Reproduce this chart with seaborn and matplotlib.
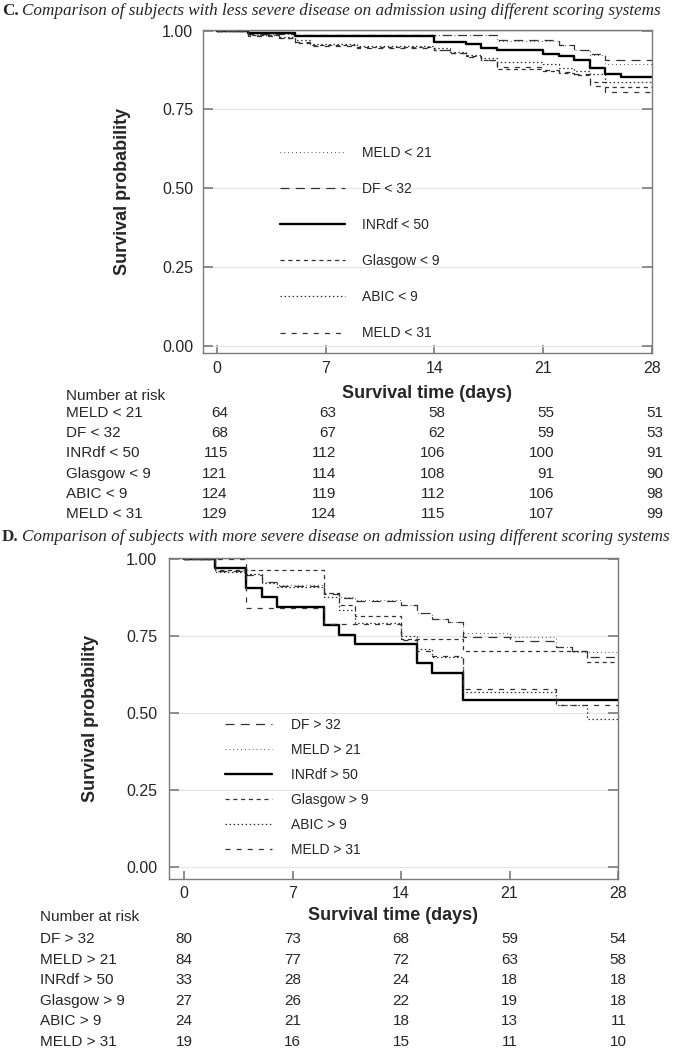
import pandas as pd
import seaborn as sns
import matplotlib.pyplot as plt
from matplotlib.transforms import blended_transform_factory

W, H = 685, 1050

# ---- panel C: less severe disease ----
c_labels = ["MELD < 21", "DF < 32", "INRdf < 50", "Glasgow < 9", "ABIC < 9", "MELD < 31"]

meld21_t = [2, 5, 18, 22, 23, 24, 25]
meld21_s = [0.990, 0.986, 0.968, 0.954, 0.938, 0.924, 0.895]
df32_t = [2, 5, 18, 22, 23, 24, 25]
df32_s = [0.988, 0.985, 0.969, 0.955, 0.939, 0.925, 0.906]
inr50_t = [2, 5, 14, 16, 17, 18, 21, 22, 23, 24, 25, 26]
inr50_s = [0.991, 0.984, 0.965, 0.956, 0.946, 0.938, 0.927, 0.918, 0.908, 0.881, 0.863, 0.852]
glas9_t = [2, 4, 5, 6, 9, 14, 15, 16, 17, 18, 21, 22, 23, 24, 25]
glas9_s = [0.985, 0.977, 0.961, 0.953, 0.948, 0.940, 0.930, 0.918, 0.908, 0.879, 0.872, 0.866, 0.860, 0.836, 0.820]
abic9_t = [2, 4, 5, 6, 9, 14, 15, 16, 17, 18, 21, 22, 23, 24, 25]
abic9_s = [0.987, 0.979, 0.970, 0.959, 0.952, 0.944, 0.933, 0.922, 0.912, 0.900, 0.894, 0.882, 0.872, 0.863, 0.838]
meld31_t = [2, 4, 5, 6, 9, 14, 15, 16, 17, 18, 21, 22, 23, 24, 25]
meld31_s = [0.984, 0.976, 0.965, 0.951, 0.946, 0.938, 0.928, 0.916, 0.906, 0.884, 0.876, 0.868, 0.862, 0.825, 0.804]

c_risk = [
    [64, 63, 58, 55, 51],
    [68, 67, 62, 59, 53],
    [115, 112, 106, 100, 91],
    [121, 114, 108, 91, 90],
    [124, 119, 112, 106, 98],
    [129, 124, 115, 107, 99],
]

# ---- panel D: more severe disease ----
d_labels = ["DF > 32", "MELD > 21", "INRdf > 50", "Glasgow > 9", "ABIC > 9", "MELD > 31"]

df32h_t = [2, 4, 5, 6, 9, 10, 11, 14, 15, 16, 17, 18, 21, 24, 25, 26]
df32h_s = [0.962, 0.948, 0.924, 0.912, 0.885, 0.874, 0.862, 0.852, 0.826, 0.805, 0.794, 0.746, 0.732, 0.713, 0.700, 0.681]
meld21h_t = [2, 4, 5, 6, 9, 10, 11, 14, 15, 16, 17, 18, 21, 24, 25]
meld21h_s = [0.975, 0.951, 0.924, 0.915, 0.889, 0.878, 0.867, 0.851, 0.824, 0.805, 0.794, 0.759, 0.746, 0.713, 0.699]
inr50h_t = [2, 4, 5, 6, 9, 10, 11, 15, 16, 18]
inr50h_s = [0.970, 0.905, 0.876, 0.845, 0.786, 0.753, 0.723, 0.663, 0.631, 0.542]
glas9h_t = [2, 9, 10, 11, 14, 18, 26]
glas9h_s = [0.963, 0.889, 0.852, 0.815, 0.741, 0.701, 0.667]
abic9h_t = [2, 4, 5, 6, 9, 10, 11, 14, 15, 16, 18, 24, 26]
abic9h_s = [0.958, 0.950, 0.921, 0.908, 0.875, 0.833, 0.792, 0.750, 0.708, 0.683, 0.567, 0.526, 0.479]
meld31h_t = [4, 9, 14, 15, 16, 18, 24]
meld31h_s = [0.842, 0.789, 0.737, 0.700, 0.684, 0.578, 0.526]

d_risk = [
    [80, 73, 68, 59, 54],
    [84, 77, 72, 63, 58],
    [33, 28, 24, 18, 18],
    [27, 26, 22, 19, 18],
    [24, 21, 18, 13, 11],
    [19, 16, 15, 11, 10],
]

risk_days = [0, 7, 14, 21, 28]

sns.set_theme(style="white")
plt.rcParams["font.family"] = ["Liberation Sans", "DejaVu Sans"]
plt.rcParams["lines.scale_dashes"] = False


def line_style(label):
    if label.startswith("INRdf"):
        return dict(color="black", linewidth=1.7, linestyle="-")
    if label.startswith("DF"):
        return dict(color="#333333", linewidth=0.9, linestyle=(0, (6.5, 4.5)))
    if label.startswith("Glasgow"):
        return dict(color="#333333", linewidth=0.9, linestyle=(0, (3.0, 2.6)))
    if label.startswith("ABIC"):
        return dict(color="#333333", linewidth=0.9, linestyle=(0, (1.1, 1.8)))
    if label.endswith("21"):
        return dict(color="#444444", linewidth=0.8, linestyle=(0, (0.6, 2.2)))
    return dict(color="#333333", linewidth=0.9, linestyle=(0, (3.6, 4.4)))


def km_frame(times, surv, end=28):
    return pd.DataFrame({"day": [0] + times + [end],
                         "surv": [1.0] + surv + [surv[-1]]})


def px_axes(left, right, top, bottom):
    return [left / W, 1 - bottom / H, (right - left) / W, (bottom - top) / H]


fig = plt.figure(figsize=(W / 100, H / 100), dpi=100)

panels = [
    dict(labels=c_labels,
         series=[(meld21_t, meld21_s), (df32_t, df32_s), (inr50_t, inr50_s),
                 (glas9_t, glas9_s), (abic9_t, abic9_s), (meld31_t, meld31_s)],
         risk=c_risk, rect=px_axes(203, 652, 30, 353), xlim=(-0.9, 28), ylim=(-0.023, 1.002),
         title_y=11, title="Comparison of subjects with less severe disease on admission using different scoring systems",
         letter="C.", ylab_x=-0.160, xlab_y=-0.099, xpad=6, ypad=7,
         leg_xy=(280, 146), handlelength=4.7, handletextpad=1.2, labelspacing=1.59,
         nar_x=66, nar_y=396, row_y0=413, row_dy=20.2, off=0.7),
    dict(labels=d_labels,
         series=[(df32h_t, df32h_s), (meld21h_t, meld21h_s), (inr50h_t, inr50h_s),
                 (glas9h_t, glas9h_s), (abic9h_t, abic9h_s), (meld31h_t, meld31h_s)],
         risk=d_risk, rect=px_axes(169, 618, 558, 879), xlim=(-0.97, 28), ylim=(-0.039, 1.003),
         title_y=537, title="Comparison of subjects with more severe disease on admission using different scoring systems",
         letter="D.", ylab_x=-0.156, xlab_y=-0.087, xpad=5, ypad=8.5,
         leg_xy=(225, 718), handlelength=3.4, handletextpad=1.37, labelspacing=0.79,
         nar_x=40, nar_y=917, row_y0=939, row_dy=20.6, off=0.55),
]

for p in panels:
    ax = fig.add_axes(p["rect"])
    for lab, (t, s) in zip(p["labels"], p["series"]):
        sns.lineplot(data=km_frame(t, s), x="day", y="surv", ax=ax,
                     drawstyle="steps-post", estimator=None, errorbar=None,
                     label=lab, **line_style(lab))

    ax.set_xlim(*p["xlim"])
    ax.set_ylim(*p["ylim"])
    ax.set_xticks(risk_days)
    ax.set_yticks([0, 0.25, 0.5, 0.75, 1.0])
    ax.set_yticklabels(["0.00", "0.25", "0.50", "0.75", "1.00"])
    ax.tick_params(axis="x", direction="in", length=6, color="#808080",
                   labelsize=11.5, pad=p["xpad"], top=False, bottom=True)
    ax.tick_params(axis="y", direction="in", length=7, color="#808080",
                   labelsize=11.5, pad=p["ypad"], left=True, right=True)
    ax.yaxis.grid(True, color="#e4e4e4", linewidth=0.8)
    ax.set_axisbelow(True)
    for sp in ax.spines.values():
        sp.set_color("#7a7a7a")
        sp.set_linewidth(1.0)

    ax.set_xlabel("Survival time (days)", fontsize=13, fontweight="bold")
    ax.set_ylabel("Survival probability", fontsize=13, fontweight="bold")
    ax.xaxis.set_label_coords(0.5, p["xlab_y"])
    ax.yaxis.set_label_coords(p["ylab_x"], 0.5)

    lines = {ln.get_label(): ln for ln in ax.get_lines()}
    ax.legend([lines[l] for l in p["labels"]], p["labels"], loc="upper left",
              bbox_to_anchor=(p["leg_xy"][0] / W, 1 - p["leg_xy"][1] / H),
              bbox_transform=fig.transFigure, frameon=False, fontsize=10,
              handlelength=p["handlelength"], handletextpad=p["handletextpad"],
              labelspacing=p["labelspacing"], borderpad=0, borderaxespad=0)

    # panel heading
    fig.text(2 / W, 1 - p["title_y"] / H, p["letter"], fontsize=12.3, fontweight="bold",
             family="Liberation Serif", va="center", ha="left")
    fig.text(22 / W, 1 - p["title_y"] / H, p["title"], fontsize=12.3, style="italic",
             family="Liberation Serif", va="center", ha="left")

    # number at risk table
    tr = blended_transform_factory(ax.transData, fig.transFigure)
    fig.text(p["nar_x"] / W, 1 - p["nar_y"] / H, "Number at risk", fontsize=11,
             va="center", ha="left")
    for i, (lab, row) in enumerate(zip(p["labels"], p["risk"])):
        y = 1 - (p["row_y0"] + i * p["row_dy"]) / H
        fig.text(p["nar_x"] / W, y, lab, fontsize=11, va="center", ha="left")
        for d, n in zip(risk_days, row):
            ax.text(d + p["off"], y, str(n), transform=tr, fontsize=11,
                    va="center", ha="right")

fig.savefig("out.png", dpi=100)
